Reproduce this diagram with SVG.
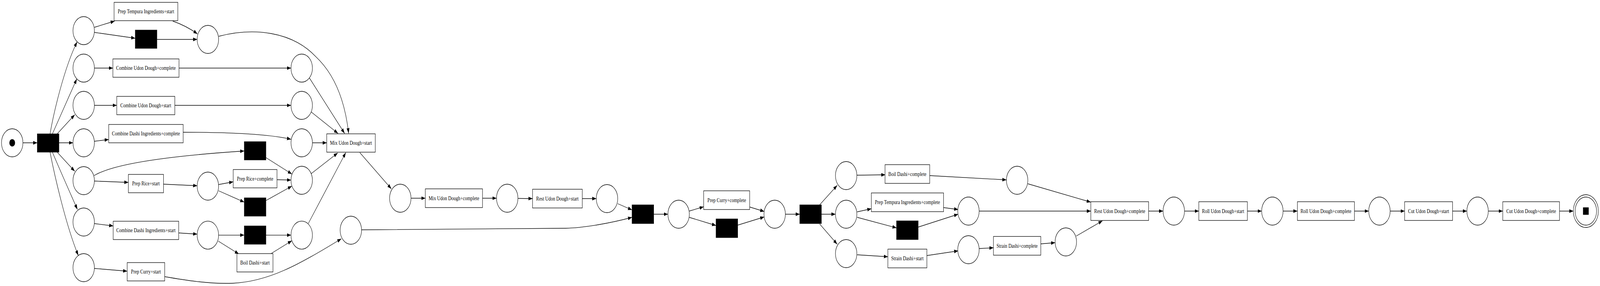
<svg xmlns="http://www.w3.org/2000/svg" width="5372" height="733" viewBox="0 0 5372 733" preserveAspectRatio="none" style="width:100vw;height:100vh;display:block">
<style>
.p{fill:#fff;stroke:#000;stroke-width:1.3}
.t{fill:#fff;stroke:#000;stroke-width:1.3}
.b{fill:#000;stroke:#000;stroke-width:1}
.l{font-family:"Liberation Serif","Times New Roman",serif;font-size:15px;text-anchor:middle;fill:#000}
#edges path{fill:none;stroke:#000;stroke-width:1.3;marker-end:url(#a)}
</style>
<defs>
<marker id="a" markerUnits="userSpaceOnUse" markerWidth="14" markerHeight="10" refX="13.5" refY="5" orient="auto"><path d="M0,0.3 L13.5,5 L0,9.7 z" fill="#000"/></marker>
</defs>
<rect width="5372" height="733" fill="#fff"/>
<g id="edges">
<path d="M77,366 L125,366"/>
<path d="M168,343 C180,290 215,175 259,107"/>
<path d="M176,343 C195,310 230,250 258,202"/>
<path d="M192,343 L251,294"/>
<path d="M198,366 L245,366"/>
<path d="M192,390 L251,439"/>
<path d="M176,390 C195,425 230,485 260,537"/>
<path d="M168,390 C182,445 220,575 263,655"/>
<path d="M317,70 L385,54"/>
<path d="M317,83 L454,98"/>
<path d="M580,54 C610,62 640,74 663,87"/>
<path d="M527,101 L662,101"/>
<path d="M734.6,93 C850,70 980,80 1060,145 C1130,195 1160,270 1170.5,342"/>
<path d="M317,174.5 L379,174.5"/>
<path d="M601,174.5 L977,174.5"/>
<path d="M317,270 L392,270"/>
<path d="M587,270 L977,270"/>
<path d="M317,362 L365,357.6"/>
<path d="M615,339 C750,339 900,343 977,357"/>
<path d="M1039,200 L1157,342"/>
<path d="M1045,287 L1135,342"/>
<path d="M1049,366 L1097,366"/>
<path d="M316,450 C380,420 560,400 820,387"/>
<path d="M317,464 L431,467.5"/>
<path d="M549,472 L662,476"/>
<path d="M734,473 L783,466"/>
<path d="M734,489 L820,518"/>
<path d="M893,404 L980,446"/>
<path d="M930,460.5 L977,461.5"/>
<path d="M893,514 L980,477"/>
<path d="M1045,445 L1134,392"/>
<path d="M1035,573 L1161,391"/>
<path d="M317,573 L380,579"/>
<path d="M600,597 L662,600"/>
<path d="M734,602.6 L820,602.6"/>
<path d="M733,618 L802,651"/>
<path d="M893,602.6 L977,602.6"/>
<path d="M910,650 L980,617"/>
<path d="M317,688 L427,695"/>
<path d="M553,709 C620,718 700,728 780,726 C900,722 1000,680 1146,612"/>
<path d="M1214,589 L1900,585 C1960,584 2050,572 2122,557"/>
<path d="M1208,391 L1314,484"/>
<path d="M1380,508 L1428,508"/>
<path d="M1620,508 L1667,508"/>
<path d="M1739,508.5 L1788,509"/>
<path d="M1955,509 L2002,509"/>
<path d="M2074,522 L2122,538"/>
<path d="M2195,549 L2242.5,549"/>
<path d="M2314,541 L2362.5,530"/>
<path d="M2314,557 L2404,578"/>
<path d="M2517,530.5 L2566,542"/>
<path d="M2477,577 L2566,556"/>
<path d="M2637,549 L2685,549"/>
<path d="M2752,525 L2811,475"/>
<path d="M2758,549 L2805,549"/>
<path d="M2752,574 L2811,626"/>
<path d="M2877,449 L2972.5,448"/>
<path d="M3121,450 L3379,461"/>
<path d="M3451,471 L3662,518"/>
<path d="M2878,543 L2925.5,535"/>
<path d="M2878,557 L3010,584"/>
<path d="M3168,532 L3217,537"/>
<path d="M3083,582 L3217,549"/>
<path d="M3288,541 L3662.5,541"/>
<path d="M2878,653 L2981,658"/>
<path d="M3112,655 L3217,643"/>
<path d="M3288,637 L3335.5,635"/>
<path d="M3494.5,625 L3542.5,622"/>
<path d="M3613.5,605 L3701.5,566"/>
<path d="M3857,541 L3905,541"/>
<path d="M3977,541 L4025,541"/>
<path d="M4188,541 L4236,541"/>
<path d="M4308,541 L4356,541"/>
<path d="M4547.5,541 L4595.5,541"/>
<path d="M4667.5,541 L4716,541"/>
<path d="M4877,541 L4925,541"/>
<path d="M4997,541 L5045.5,541"/>
<path d="M5236,541 L5282.5,541"/>
</g>
<g id="start"><circle class="p" cx="41" cy="366" r="36"/><circle cx="41" cy="366" r="9.6" fill="#000"/></g>
<g id="t_split1"><rect class="b" x="125" y="343" width="73" height="47"/></g>
<g id="p1"><circle class="p" cx="281" cy="78.5" r="36"/></g>
<g id="p2"><circle class="p" cx="281" cy="174.5" r="36"/></g>
<g id="p3"><circle class="p" cx="281" cy="270" r="36"/></g>
<g id="p4"><circle class="p" cx="281" cy="366" r="36"/></g>
<g id="p5"><circle class="p" cx="281" cy="463" r="36"/></g>
<g id="p6"><circle class="p" cx="281" cy="569" r="36"/></g>
<g id="p7"><circle class="p" cx="281" cy="686" r="36"/></g>
<g id="t_tempura_start"><rect class="t" x="383" y="6" width="214" height="47"/><text class="l" x="490" y="34.5">Prep Tempura Ingredients+start</text></g>
<g id="t_skip1"><rect class="b" x="454" y="77" width="73" height="47"/></g>
<g id="t_cud_complete"><rect class="t" x="379" y="151" width="222" height="47"/><text class="l" x="490" y="179.5">Combine Udon Dough+complete</text></g>
<g id="t_cud_start"><rect class="t" x="392" y="247" width="195" height="47"/><text class="l" x="489.5" y="275.5">Combine Udon Dough+start</text></g>
<g id="t_cdi_complete"><rect class="t" x="365" y="319" width="250" height="47"/><text class="l" x="490" y="347.5">Combine Dashi Ingredients+complete</text></g>
<g id="t_rice_start"><rect class="t" x="431" y="447" width="118" height="47"/><text class="l" x="490" y="475.5">Prep Rice+start</text></g>
<g id="t_cdi_start"><rect class="t" x="380" y="567" width="220" height="47"/><text class="l" x="490" y="595.5">Combine Dashi Ingredients+start</text></g>
<g id="t_curry_start"><rect class="t" x="427" y="673" width="126" height="47"/><text class="l" x="490" y="701.5">Prep Curry+start</text></g>
<g id="pA"><circle class="p" cx="698" cy="101" r="36"/></g>
<g id="pB"><circle class="p" cx="698" cy="477" r="36"/></g>
<g id="pC"><circle class="p" cx="698" cy="602.6" r="36"/></g>
<g id="t_skip2"><rect class="b" x="820" y="363" width="73" height="47"/></g>
<g id="t_rice_complete"><rect class="t" x="783" y="434.5" width="147" height="47"/><text class="l" x="856.5" y="463">Prep Rice+complete</text></g>
<g id="t_skip3"><rect class="b" x="820" y="507" width="73" height="47"/></g>
<g id="t_skip4"><rect class="b" x="820" y="579" width="73" height="47"/></g>
<g id="t_boil_start"><rect class="t" x="795.5" y="650" width="121" height="47"/><text class="l" x="856" y="678.5">Boil Dashi+start</text></g>
<g id="q1"><circle class="p" cx="1013" cy="174.5" r="36"/></g>
<g id="q2"><circle class="p" cx="1013" cy="270" r="36"/></g>
<g id="q3"><circle class="p" cx="1013" cy="366" r="36"/></g>
<g id="q4"><circle class="p" cx="1013" cy="462" r="36"/></g>
<g id="q5"><circle class="p" cx="1013" cy="602.6" r="36"/></g>
<g id="t_mix_start"><rect class="t" x="1097" y="343" width="163" height="47"/><text class="l" x="1178.5" y="371.5">Mix Udon Dough+start</text></g>
<g id="q6"><circle class="p" cx="1178" cy="590" r="36"/></g>
<g id="q7"><circle class="p" cx="1344" cy="508" r="36"/></g>
<g id="t_mix_complete"><rect class="t" x="1428" y="484" width="192" height="48"/><text class="l" x="1524" y="513">Mix Udon Dough+complete</text></g>
<g id="q8"><circle class="p" cx="1703" cy="508" r="36"/></g>
<g id="t_rest_start"><rect class="t" x="1788" y="485" width="167" height="48"/><text class="l" x="1871.5" y="514">Rest Udon Dough+start</text></g>
<g id="q9"><circle class="p" cx="2038" cy="509" r="36"/></g>
<g id="t_join1"><rect class="b" x="2122" y="525" width="73" height="48"/></g>
<g id="q10"><circle class="p" cx="2278.5" cy="549" r="36"/></g>
<g id="t_curry_complete"><rect class="t" x="2362.5" y="489" width="154.5" height="48"/><text class="l" x="2440" y="518">Prep Curry+complete</text></g>
<g id="t_skip5"><rect class="b" x="2404" y="561" width="73" height="48"/></g>
<g id="q11"><circle class="p" cx="2601" cy="549" r="36"/></g>
<g id="t_split2"><rect class="b" x="2685" y="525" width="73" height="48"/></g>
<g id="r1"><circle class="p" cx="2841" cy="450" r="36"/></g>
<g id="r2"><circle class="p" cx="2841" cy="549" r="36"/></g>
<g id="r3"><circle class="p" cx="2841" cy="650" r="36"/></g>
<g id="t_boil_complete"><rect class="t" x="2971.5" y="422" width="150" height="48"/><text class="l" x="3046.5" y="451">Boil Dashi+complete</text></g>
<g id="t_tempura_complete"><rect class="t" x="2925.5" y="494.5" width="242.5" height="48"/><text class="l" x="3046.7" y="523.5">Prep Tempura Ingredients+complete</text></g>
<g id="t_skip6"><rect class="b" x="3010" y="566" width="73" height="48"/></g>
<g id="t_strain_start"><rect class="t" x="2981" y="638.5" width="131" height="48"/><text class="l" x="3046.5" y="667.5">Strain Dashi+start</text></g>
<g id="r4"><circle class="p" cx="3251.6" cy="541" r="36"/></g>
<g id="r5"><circle class="p" cx="3251.6" cy="640" r="36"/></g>
<g id="t_strain_complete"><rect class="t" x="3335.5" y="606" width="159" height="48"/><text class="l" x="3415" y="635">Strain Dashi+complete</text></g>
<g id="r6"><circle class="p" cx="3415" cy="462" r="36"/></g>
<g id="r7"><circle class="p" cx="3578.5" cy="620" r="36"/></g>
<g id="t_rest_complete"><rect class="t" x="3662.5" y="517" width="194" height="48"/><text class="l" x="3759.5" y="546">Rest Udon Dough+complete</text></g>
<g id="s1"><circle class="p" cx="3941" cy="541" r="36"/></g>
<g id="t_roll_start"><rect class="t" x="4025" y="517" width="163" height="48"/><text class="l" x="4106.5" y="546">Roll Udon Dough+start</text></g>
<g id="s2"><circle class="p" cx="4272" cy="541" r="36"/></g>
<g id="t_roll_complete"><rect class="t" x="4356" y="517" width="191.5" height="48"/><text class="l" x="4451.75" y="546">Roll Udon Dough+complete</text></g>
<g id="s3"><circle class="p" cx="4631.5" cy="541" r="36"/></g>
<g id="t_cut_start"><rect class="t" x="4716" y="517" width="161" height="48"/><text class="l" x="4796.5" y="546">Cut Udon Dough+start</text></g>
<g id="s4"><circle class="p" cx="4961" cy="541" r="36"/></g>
<g id="t_cut_complete"><rect class="t" x="5045.5" y="517" width="190.5" height="48"/><text class="l" x="5140.75" y="546">Cut Udon Dough+complete</text></g>
<g id="end"><circle class="p" cx="5324.5" cy="541" r="42"/><circle class="p" cx="5324.5" cy="541" r="36"/><rect x="5315" y="531.5" width="19" height="19" fill="#000"/></g>
</svg>
